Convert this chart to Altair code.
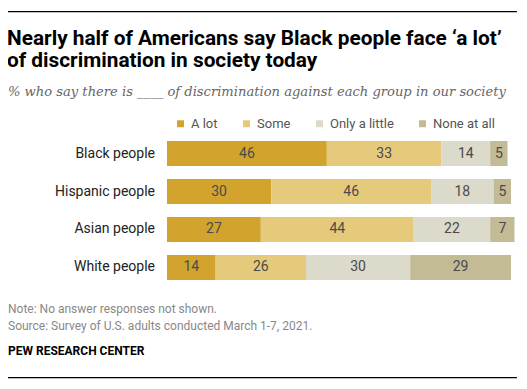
import altair as alt
import pandas as pd

groups = ["Black people", "Hispanic people", "Asian people", "White people"]
responses = ["A lot", "Some", "Only a little", "None at all"]
a_lot = [46, 30, 27, 14]
some = [33, 46, 44, 26]
only_little = [14, 18, 22, 30]
none_at_all = [5, 5, 7, 29]
colors = ["#D2A42E", "#E6CA7C", "#DCDACB", "#C3BA96"]

title_lines = ["Nearly half of Americans say Black people face \u2018a lot\u2019",
               "of discrimination in society today"]
subtitle = "% who say there is ____ of discrimination against each group in our society"
notes = ["Note: No answer responses not shown.",
         "Source: Survey of U.S. adults conducted March 1-7, 2021."]
credit = "PEW RESEARCH CENTER"

rows = []
series = [a_lot, some, only_little, none_at_all]
for gi, g in enumerate(groups):
    for ri, r in enumerate(responses):
        rows.append({"group": g, "response": r, "value": series[ri][gi], "idx": ri})
df = pd.DataFrame(rows)

W, H = 511, 373
LF = "Roboto"

xscale = alt.Scale(domain=[0, 99], range=[159, 503], nice=False, zero=True)
yscale = alt.Scale(domain=groups, range=[133, 272], paddingInner=0.342, paddingOuter=0)

base = alt.Chart(df).transform_stack(
    stack="value", groupby=["group"], as_=["x0", "x1"],
    sort=[alt.SortField("idx", order="ascending")]
).transform_calculate(mid="(datum.x0 + datum.x1) / 2")

bars = base.mark_bar().encode(
    x=alt.X("x0:Q", scale=xscale, axis=None),
    x2="x1:Q",
    y=alt.Y("group:N", scale=yscale, axis=None, sort=groups),
    color=alt.Color("response:N", scale=alt.Scale(domain=responses, range=colors),
                    sort=responses,
                    legend=alt.Legend(orient="none", legendX=166, legendY=109,
                                      direction="horizontal", title=None,
                                      symbolType="square", symbolSize=49,
                                      symbolStrokeWidth=0, symbolOpacity=1,
                                      labelFont=LF, labelFontSize=13,
                                      labelColor="#555555", columnPadding=22,
                                      labelOffset=4)),
)

vals = base.mark_text(font=LF, fontSize=14, color="#4a4a4a", baseline="middle").encode(
    x=alt.X("mid:Q", scale=xscale, axis=None),
    y=alt.Y("group:N", scale=yscale, axis=None, sort=groups),
    text="value:Q",
)

cat = alt.Chart(pd.DataFrame({"group": groups})).mark_text(
    font=LF, fontSize=14, color="#222222", align="right", baseline="middle"
).encode(
    x=alt.value(147),
    y=alt.Y("group:N", scale=yscale, axis=None, sort=groups),
    text="group:N",
)

def txt(s, x, y, **kw):
    return alt.Chart(pd.DataFrame({"t": [s]})).mark_text(
        align="left", baseline="alphabetic", **kw
    ).encode(x=alt.value(x), y=alt.value(y), text="t:N")

# decorative top/bottom rules spanning the chart width
rule_left = -46.3
rule_right = 100.7
def hline(name, y0, y1):
    return alt.Chart(pd.DataFrame({"r": [name], "a": [rule_left], "b": [rule_right]})).mark_bar(
        color="#000000").encode(
        x=alt.X("a:Q", scale=xscale, axis=None), x2="b:Q",
        y=alt.value(y0), y2=alt.value(y1))

layers = [hline("top", 3, 4.3), hline("bottom", 369, 370.3), bars, vals, cat]
layers.append(txt(title_lines[0], -1, 37, font=LF, fontSize=20.8, fontWeight="bold", color="#000000"))
layers.append(txt(title_lines[1], -1, 59, font=LF, fontSize=20.8, fontWeight="bold", color="#000000"))
layers.append(txt(subtitle, 0, 88, font="DejaVu Serif", fontSize=13.1, fontStyle="italic", color="#666666"))
layers.append(txt(notes[0], 0, 305, font=LF, fontSize=12, color="#888888"))
layers.append(txt(notes[1], 0, 322, font=LF, fontSize=12, color="#888888"))
layers.append(txt(credit, 0, 347, font=LF, fontSize=12, fontWeight="bold", color="#000000"))

chart = alt.layer(*layers).properties(
    width=W, height=H, autosize=alt.AutoSizeParams(type="none"), padding=0
).configure(background="#ffffff").configure_view(stroke=None)

chart.save("out.html", embed_options={"renderer": "svg", "actions": False})
